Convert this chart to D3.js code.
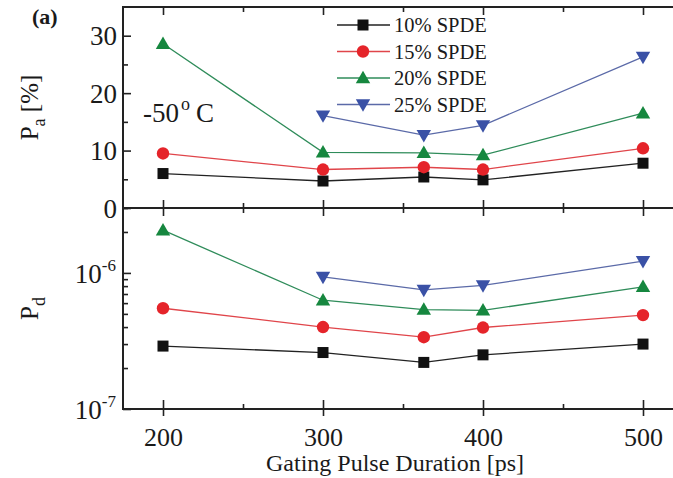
<!DOCTYPE html>
<html><head><meta charset="utf-8">
<script src="https://cdn.jsdelivr.net/npm/d3@7"></script>
<style>
body{margin:0;background:#fff}
svg{display:block}
text{font-family:"Liberation Serif","Times New Roman",serif;fill:#1a1a1a}
</style>
</head><body>
<svg id="c" width="673" height="478" font-family="Liberation Serif"></svg>
<script>
// ---- data ----
const durations = [200, 300, 363, 400, 500];
const seriesNames = ["10% SPDE", "15% SPDE", "20% SPDE", "25% SPDE"];
// Afterpulse probability Pa [%]
const pa10 = [6.0, 4.7, 5.4, 4.9, 7.8];
const pa15 = [9.5, 6.7, 7.1, 6.7, 10.4];
const pa20 = [28.6, 9.7, 9.6, 9.2, 16.5];
const pa25 = [null, 16.1, 12.7, 14.4, 26.3];
// Dark count probability Pd
const pd10 = [2.9e-7, 2.6e-7, 2.2e-7, 2.5e-7, 3.0e-7];
const pd15 = [5.5e-7, 4.0e-7, 3.37e-7, 3.97e-7, 4.9e-7];
const pd20 = [2.06e-6, 6.3e-7, 5.37e-7, 5.3e-7, 7.9e-7];
const pd25 = [null, 9.35e-7, 7.5e-7, 8.1e-7, 1.22e-6];
const xTicks = [200, 300, 400, 500];
const paTicks = [0, 10, 20, 30];
const pdTicks = [1e-7, 1e-6];

// ---- styles ----
const markerColors = ["#111111", "#e5242a", "#16873f", "#3a51a6"];
const lineColors = ["#222222", "#e0454a", "#2f8c5a", "#5b6aa8"];
const shapes = ["square", "circle", "triangle", "triangleDown"];

const svg = d3.select("#c");
const L = 123, R = 683, T = 7, MID = 208, B = 409;

const x = d3.scaleLinear().domain([175, 525]).range([L, R]);
const yA = d3.scaleLinear().domain([0, 35]).range([MID, T]);
const yD = d3.scaleLog().domain([1e-7, 3e-6]).range([B, MID]);

const axisColor = "#222";

// frame
const frame = svg.append("g").attr("stroke", axisColor).attr("stroke-width", 2).attr("fill", "none");
frame.append("rect").attr("x", L).attr("y", T).attr("width", R - L).attr("height", B - T);
frame.append("line").attr("x1", L).attr("x2", R).attr("y1", MID).attr("y2", MID);

const xMinor = [250, 350, 450];
// top border inward ticks
svg.append("g").attr("transform", `translate(0,${T})`)
  .call(d3.axisBottom(x).tickValues(xTicks).tickSize(8).tickFormat(""))
  .call(g => g.select(".domain").remove());
svg.append("g").attr("transform", `translate(0,${T})`)
  .call(d3.axisBottom(x).tickValues(xMinor).tickSize(5).tickFormat(""))
  .call(g => g.select(".domain").remove());
// middle divider ticks (both ways)
[d3.axisTop, d3.axisBottom].forEach(fn => {
  svg.append("g").attr("transform", `translate(0,${MID})`)
    .call(fn(x).tickValues(xTicks).tickSize(8).tickFormat(""))
    .call(g => g.select(".domain").remove());
  svg.append("g").attr("transform", `translate(0,${MID})`)
    .call(fn(x).tickValues(xMinor).tickSize(5).tickFormat(""))
    .call(g => g.select(".domain").remove());
});
// bottom ticks
svg.append("g").attr("transform", `translate(0,${B})`)
  .call(d3.axisTop(x).tickValues(xTicks).tickSize(9).tickFormat(""))
  .call(g => g.select(".domain").remove());
svg.append("g").attr("transform", `translate(0,${B})`)
  .call(d3.axisBottom(x).tickValues(xTicks).tickSize(7).tickFormat(""))
  .call(g => g.select(".domain").remove());
svg.append("g").attr("transform", `translate(0,${B})`)
  .call(d3.axisTop(x).tickValues(xMinor).tickSize(5).tickFormat(""))
  .call(g => g.select(".domain").remove());
// x labels
svg.append("g").attr("transform", `translate(0,${B})`)
  .call(d3.axisBottom(x).tickValues(xTicks).tickSize(0).tickPadding(19))
  .call(g => g.select(".domain").remove())
  .call(g => g.attr("font-family", "Liberation Serif"))
  .call(g => g.selectAll("text").attr("font-size", 26).attr("fill", "#1a1a1a"));

// y upper axis
svg.append("g").attr("transform", `translate(${L},0)`)
  .call(d3.axisRight(yA).tickValues(paTicks).tickSize(8).tickFormat(""))
  .call(g => g.select(".domain").remove());
svg.append("g").attr("transform", `translate(${L},0)`)
  .call(d3.axisRight(yA).tickValues([5, 15, 25]).tickSize(5).tickFormat(""))
  .call(g => g.select(".domain").remove());
svg.append("g").attr("transform", `translate(${L},0)`)
  .call(d3.axisLeft(yA).tickValues(paTicks).tickSize(0).tickPadding(6))
  .call(g => g.select(".domain").remove())
  .call(g => g.attr("font-family", "Liberation Serif"))
  .call(g => g.selectAll("text").attr("font-size", 27).attr("fill", "#1a1a1a").attr("dy", "0.34em"));

// y lower axis (log)
const pdMinor = [];
[1e-7, 1e-6].forEach(d => { for (let k = 2; k <= 9; k++) { const v = d * k; if (v <= 3e-6) pdMinor.push(v); } });
svg.append("g").attr("transform", `translate(${L},0)`)
  .call(d3.axisRight(yD).tickValues(pdTicks).tickSize(8).tickFormat(""))
  .call(g => g.select(".domain").remove());
svg.append("g").attr("transform", `translate(${L},0)`)
  .call(d3.axisRight(yD).tickValues(pdMinor).tickSize(5).tickFormat(""))
  .call(g => g.select(".domain").remove());
const pdLab = svg.append("g");
pdTicks.forEach(v => {
  const t = pdLab.append("text").attr("x", L - 7).attr("y", yD(v) + 10)
    .attr("text-anchor", "end").attr("font-size", 27);
  t.append("tspan").text("10");
  t.append("tspan").attr("font-size", 17).attr("dy", -12).text("-" + Math.round(-Math.log10(v)));
});

svg.selectAll(".tick line").attr("stroke", axisColor).attr("stroke-width", 1.6);

// ---- series ----
const paSeries = [pa10, pa15, pa20, pa25];
const pdSeries = [pd10, pd15, pd20, pd25];

function marker(g, shape, color, cx, cy) {
  if (shape === "circle") {
    g.append("circle").attr("cx", cx).attr("cy", cy).attr("r", 6.2).attr("fill", color);
  } else if (shape === "square") {
    g.append("rect").attr("x", cx - 5.5).attr("y", cy - 5.5).attr("width", 11).attr("height", 11).attr("fill", color);
  } else {
    const s = d3.symbol().type(d3.symbolTriangle).size(90)();
    g.append("path").attr("d", s).attr("fill", color)
      .attr("transform", `translate(${cx},${cy + (shape === "triangle" ? 1 : -1)}) rotate(${shape === "triangle" ? 0 : 180})`);
  }
}

function drawPanel(series, yScale) {
  series.forEach((vals, i) => {
    const pts = durations.map((d, j) => [d, vals[j]]).filter(p => p[1] != null);
    svg.append("path").datum(pts)
      .attr("fill", "none").attr("stroke", lineColors[i]).attr("stroke-width", 1.3)
      .attr("d", d3.line().x(p => x(p[0])).y(p => yScale(p[1])));
    const g = svg.append("g");
    pts.forEach(p => marker(g, shapes[i], markerColors[i], x(p[0]), yScale(p[1])));
  });
}
drawPanel(paSeries, yA);
drawPanel(pdSeries, yD);

// ---- legend ----
const leg = svg.append("g");
seriesNames.forEach((name, i) => {
  const cy = 25 + i * 26.5;
  leg.append("line").attr("x1", 337).attr("x2", 390).attr("y1", cy).attr("y2", cy)
    .attr("stroke", lineColors[i]).attr("stroke-width", 1.3);
  marker(leg, shapes[i], markerColors[i], 363, cy);
  leg.append("text").attr("x", 394).attr("y", cy + 7).attr("font-size", 20.5).text(name);
});

// ---- annotations ----
svg.append("text").attr("x", 32).attr("y", 24).attr("font-size", 22).attr("font-weight", "bold").text("(a)");
const tmp = svg.append("text").attr("x", 143).attr("y", 122).attr("font-size", 27);
tmp.append("tspan").text("-50");
tmp.append("tspan").attr("font-size", 18).attr("dy", -12).attr("dx", 2).text("o");
tmp.append("tspan").attr("dy", 12).attr("dx", 6).text("C");

// axis titles
const ta = svg.append("text").attr("transform", `translate(38,${(T + MID) / 2}) rotate(-90)`)
  .attr("text-anchor", "middle").attr("font-size", 25);
ta.append("tspan").text("P");
ta.append("tspan").attr("font-size", 18).attr("dy", 7).text("a");
ta.append("tspan").attr("dy", -7).text(" [%]");
const td = svg.append("text").attr("transform", `translate(38,${(MID + B) / 2}) rotate(-90)`)
  .attr("text-anchor", "middle").attr("font-size", 25);
td.append("tspan").text("P");
td.append("tspan").attr("font-size", 18).attr("dy", 7).text("d");

svg.append("text").attr("x", (268 + 522) / 2).attr("y", 471).attr("text-anchor", "middle")
  .attr("font-size", 24).text("Gating Pulse Duration [ps]");
</script>
</body></html>
